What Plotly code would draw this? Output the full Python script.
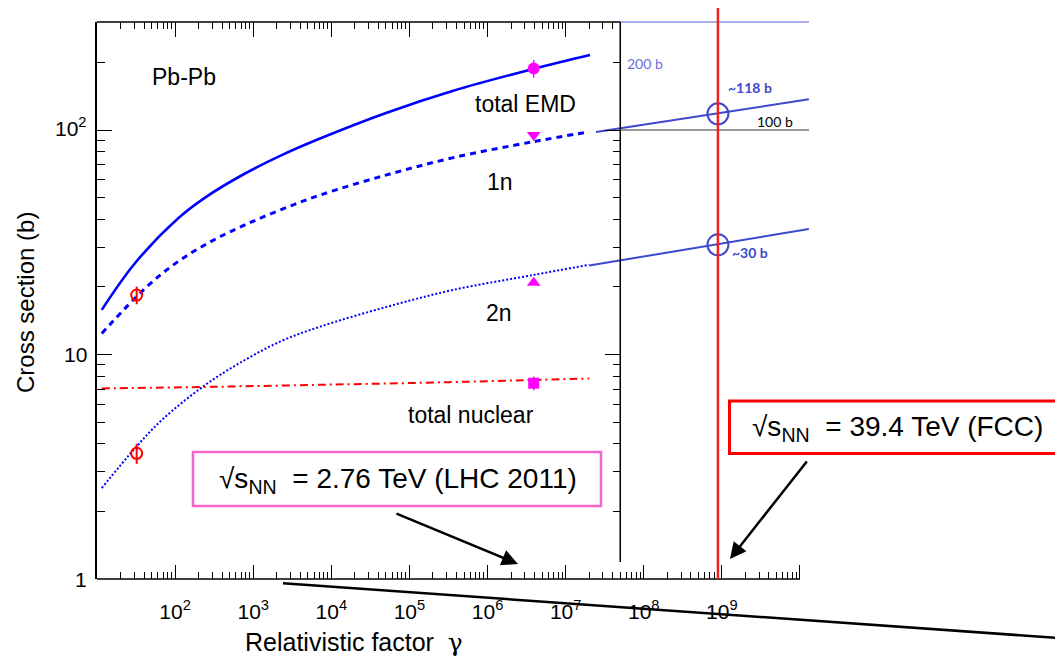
import math
import plotly.graph_objects as go

# ---------------- data ----------------
gamma_emd = [11.5, 30.6, 110, 242, 785, 2317, 7161, 51170, 3.64e5, 3.85e6, 2.05e7]
sigma_emd = [15.8, 25.5, 40.5, 50.0, 64.0, 77.3, 91.6, 119.4, 149.6, 187.1, 215.8]

gamma_1n = [11.5, 41.2, 110, 294, 785, 2317, 7161, 51170, 3.64e5, 3.85e6, 2.0e7]
sigma_1n = [12.4, 19.7, 26.0, 32.0, 37.8, 44.3, 51.3, 63.1, 75.3, 88.7, 98.2]

gamma_2n = [11.5, 30.6, 67.3, 242, 785, 2317, 7161, 51170, 3.64e5, 3.85e6, 2.0e7]
sigma_2n = [2.54, 3.82, 5.10, 7.31, 9.46, 11.5, 13.3, 16.3, 19.4, 22.6, 25.1]

gamma_nuc = [11.5, 316, 11100, 3.2e5, 3.2e6, 2.0e7]
sigma_nuc = [7.06, 7.18, 7.35, 7.53, 7.69, 7.82]

# extrapolations to FCC energies
gamma_ext_emd = [2.44e7, 1.3e10]
sigma_ext_emd = [98, 137]
gamma_ext_2n = [2.0e7, 1.3e10]
sigma_ext_2n = [24.9, 36.2]

# low-energy measurements (red open circles)
gamma_low = [32.2, 32.2]
sigma_low = [18.4, 3.63]
sigma_low_err = [1.65, 0.37]

# LHC 2011 measurements (magenta)
gamma_lhc = [3.9e6]
sigma_lhc_emd = [188]
sigma_lhc_1n = [95]
sigma_lhc_2n = [20.9]
sigma_lhc_nuc = [7.45]

# FCC estimates
gamma_fcc = [8.9e8]
sigma_fcc = [118, 30.8]

# diamond marker under the axis
gamma_diamond = [2383]
sigma_diamond = [0.957]

x_tick_vals = [10 ** k for k in range(1, 11)]
x_tick_text = [""] + ["10<sup>%d</sup>" % k for k in range(2, 10)] + [""]
y_tick_vals = [1, 10, 100]
y_tick_text = ["1", "10", "10<sup>2</sup>"]

# ---------------- layout geometry (page pixels) ----------------
OFF = 8                      # default body margin of the html page
W, H = 1063 - OFF, 659 - OFF
PL, PT, PR, PB = 97, 22, 809, 579   # plot area in page pixels
PW, PH = PR - PL, PB - PT
L, T = PL - OFF, PT - OFF
R, B = W - L - PW, H - T - PH


def px(x):
    return (x - PL) / PW


def py(y):
    return (PB - y) / PH


FONT = "Liberation Sans, Arial, Helvetica, sans-serif"
SMALLFONT = "Lato, Open Sans, sans-serif"
BLUE = "#0000ff"
EXT = "#3f48cc"

x_minor = [m * 10 ** k for k in range(1, 10) for m in range(2, 10)]
top_minor = [v for v in x_minor if v <= 5e7]
top_major = [10 ** k for k in range(2, 8)]
y_minor = [m * 10 ** k for k in range(0, 2) for m in range(2, 10)] + [200]
y_minor_right = [v for v in y_minor if v >= 2]

fig = go.Figure()

fig.add_trace(go.Scatter(x=gamma_emd, y=sigma_emd, mode="lines",
                         line=dict(color=BLUE, width=2.6, shape="spline", smoothing=1.0), showlegend=False))
fig.add_trace(go.Scatter(x=gamma_1n, y=sigma_1n, mode="lines",
                         line=dict(color=BLUE, width=3, dash="6px,5px", shape="spline", smoothing=1.0),
                         showlegend=False))
fig.add_trace(go.Scatter(x=gamma_2n, y=sigma_2n, mode="lines",
                         line=dict(color=BLUE, width=2, dash="2px,2px", shape="spline", smoothing=1.0),
                         showlegend=False))
fig.add_trace(go.Scatter(x=gamma_nuc, y=sigma_nuc, mode="lines",
                         line=dict(color="#ff0000", width=2, dash="8px,4px,2px,4px", shape="spline"),
                         showlegend=False))

fig.add_trace(go.Scatter(x=gamma_ext_emd, y=sigma_ext_emd, mode="lines",
                         line=dict(color=EXT, width=2), showlegend=False))
fig.add_trace(go.Scatter(x=gamma_ext_2n, y=sigma_ext_2n, mode="lines",
                         line=dict(color=EXT, width=2), showlegend=False))

fig.add_trace(go.Scatter(x=gamma_low, y=sigma_low, mode="markers",
                         marker=dict(symbol="circle-open", size=11, color="#ff0000", line=dict(width=2)),
                         error_y=dict(type="data", array=sigma_low_err, color="#ff0000", thickness=2, width=0),
                         showlegend=False))

fig.add_trace(go.Scatter(x=gamma_lhc, y=sigma_lhc_emd, mode="markers",
                         marker=dict(symbol="circle", size=12, color="#ff00ff"),
                         error_y=dict(type="percent", value=9, color="#ff00ff", thickness=1.5, width=0),
                         showlegend=False))
fig.add_trace(go.Scatter(x=gamma_lhc, y=sigma_lhc_1n, mode="markers",
                         marker=dict(symbol="triangle-down", size=12, color="#ff00ff"), showlegend=False))
fig.add_trace(go.Scatter(x=gamma_lhc, y=sigma_lhc_2n, mode="markers",
                         marker=dict(symbol="triangle-up", size=12, color="#ff00ff"), showlegend=False))
fig.add_trace(go.Scatter(x=gamma_lhc, y=sigma_lhc_nuc, mode="markers",
                         marker=dict(symbol="square", size=11, color="#ff00ff"),
                         error_y=dict(type="percent", value=7, color="#ff00ff", thickness=1.5, width=0),
                         showlegend=False))

fig.add_trace(go.Scatter(x=gamma_fcc * 2, y=sigma_fcc, mode="markers",
                         marker=dict(symbol="circle-open", size=21, color=EXT, line=dict(width=2)),
                         showlegend=False))

fig.add_trace(go.Scatter(x=gamma_diamond, y=sigma_diamond, mode="markers", cliponaxis=False,
                         marker=dict(symbol="diamond", size=14, color="black"), showlegend=False))

# dummy traces so that the auxiliary axes get drawn
fig.add_trace(go.Scatter(x=[100], y=[10], xaxis="x2", yaxis="y", mode="markers",
                         marker=dict(opacity=0), hoverinfo="skip", showlegend=False))
fig.add_trace(go.Scatter(x=[100], y=[10], xaxis="x", yaxis="y2", mode="markers",
                         marker=dict(opacity=0), hoverinfo="skip", showlegend=False))

XR = [1, 1 + PW / 78.11]
YR = [0, PH / 224.5]

axis_common = dict(showgrid=False, zeroline=False, tickcolor="black", tickwidth=1.4)

fig.update_layout(
    width=W, height=H,
    margin=dict(l=L, r=R, t=T, b=B),
    paper_bgcolor="white", plot_bgcolor="white",
    font=dict(family=FONT, color="black"),
    xaxis=dict(type="log", range=XR, showline=False, ticks="inside", ticklen=14,
               tickmode="array", tickvals=x_tick_vals, ticktext=x_tick_text,
               tickfont=dict(size=21, family=FONT), ticklabelstandoff=18,
               minor=dict(ticks="inside", ticklen=7, tickvals=x_minor, tickcolor="black", tickwidth=1.2),
               **axis_common),
    xaxis2=dict(type="log", range=XR, overlaying="x", side="top", anchor="y", showline=False,
                ticks="inside", ticklen=15, tickmode="array", tickvals=top_major, showticklabels=False,
                minor=dict(ticks="inside", ticklen=7, tickvals=top_minor, tickcolor="black", tickwidth=1.2),
                **axis_common),
    yaxis=dict(type="log", range=YR, showline=True, linecolor="black", linewidth=1.5,
               ticks="inside", ticklen=15, tickmode="array", tickvals=y_tick_vals,
               showticklabels=False,
               minor=dict(ticks="inside", ticklen=8, tickvals=y_minor, tickcolor="black", tickwidth=1.2),
               **axis_common),
    yaxis2=dict(type="log", range=YR, overlaying="y", side="right", anchor="free", position=px(620),
                showline=False, ticks="inside", ticklen=15, tickmode="array", tickvals=[10, 100],
                showticklabels=False,
                minor=dict(ticks="inside", ticklen=7, tickvals=y_minor_right, tickcolor="black", tickwidth=1.2),
                **axis_common),
)

shapes = [
    # frame pieces
    dict(type="line", xref="x", yref="paper", x0=10, x1=5e7, y0=1, y1=1, line=dict(color="black", width=1.5)),
    dict(type="line", xref="x", yref="paper", x0=5e7, x1=10 ** XR[1], y0=1, y1=1,
         line=dict(color="#8f93e0", width=1.5)),
    dict(type="line", xref="x", yref="paper", x0=5e7, x1=5e7, y0=py(562), y1=1,
         line=dict(color="black", width=1.5)),
    dict(type="line", xref="x", yref="paper", x0=10, x1=1e10, y0=0, y1=0, line=dict(color="black", width=1.5)),
    # 100 b reference line
    dict(type="line", xref="x", yref="y", x0=5e7, x1=10 ** XR[1], y0=100, y1=100,
         line=dict(color="#333333", width=1.2)),
    # FCC vertical line
    dict(type="line", xref="x", yref="paper", x0=gamma_fcc[0], x1=gamma_fcc[0], y0=0, y1=py(7),
         line=dict(color="#f02020", width=2.5)),
    # boxes
    dict(type="rect", xref="paper", yref="paper", x0=px(193), x1=px(601), y0=py(506), y1=py(452),
         line=dict(color="#f466c9", width=2.5)),
    dict(type="rect", xref="paper", yref="paper", x0=px(729.5), x1=px(1090), y0=py(453.5), y1=py(401),
         line=dict(color="#ff0000", width=3)),
    # long black line from the diamond
    dict(type="line", xref="paper", yref="paper", x0=px(283), y0=py(583.3), x1=px(1090), y1=py(640.2),
         line=dict(color="black", width=2.5)),
]
fig.update_layout(shapes=shapes)

NB = "\u00a0"
ann = []


def text(x, y, s, size, color="black", xanchor="center", family=FONT, **kw):
    ann.append(dict(xref="paper", yref="paper", x=px(x), y=py(y), text=s, showarrow=False,
                    xanchor=xanchor, yanchor="middle", font=dict(size=size, color=color, family=family),
                    **kw))


# y tick labels, placed on the (log) y scale
for v, s in zip(y_tick_vals, y_tick_text):
    ann.append(dict(xref="paper", yref="y", x=px(89), y=math.log10(v), text=s, showarrow=False,
                    xanchor="right", yanchor="middle", font=dict(size=21, family=FONT, color="black"),
                    yshift=3 if "sup" in s else 0))

text(184, 77, "Pb-Pb", 23)
text(525, 104, "total EMD", 23)
text(500, 182, "1n", 23)
text(499, 313, "2n", 23)
text(471, 415, "total nuclear", 23)
text(398, 480, "√s<sub>NN</sub>" + NB + NB + "= 2.76 TeV (LHC 2011)", 28)
text(897, 428, "√s<sub>NN</sub>" + NB + NB + "= 39.4 TeV (FCC)", 28)
text(625, 63, "200 b", 14, color="#6b70d6", xanchor="left", family=SMALLFONT)
text(726, 87, "<b>~118 b</b>", 14, color=EXT, xanchor="left", family=SMALLFONT)
text(755, 121, "100 b", 14, color="black", xanchor="left", family=SMALLFONT)
text(730, 253, "<b>~30 b</b>", 14, color=EXT, xanchor="left", family=SMALLFONT)
text(354, 642, "Relativistic factor" + NB + NB + "<span style='font-family:DejaVu Serif'>γ</span>", 25)
text(25, 303, "Cross section (b)", 24, textangle=-90)

# arrows
ann.append(dict(xref="paper", yref="paper", x=px(518), y=py(564), ax=395 - 518, ay=513 - 564,
                axref="pixel", ayref="pixel", text="", showarrow=True, arrowhead=2, arrowsize=1.3,
                arrowwidth=2.5, arrowcolor="black", standoff=0))
ann.append(dict(xref="paper", yref="paper", x=px(730), y=py(559), ax=808 - 730, ay=460 - 559,
                axref="pixel", ayref="pixel", text="", showarrow=True, arrowhead=2, arrowsize=1.3,
                arrowwidth=2.5, arrowcolor="black", standoff=0))

fig.update_layout(annotations=ann)

fig.write_html("out.html")
